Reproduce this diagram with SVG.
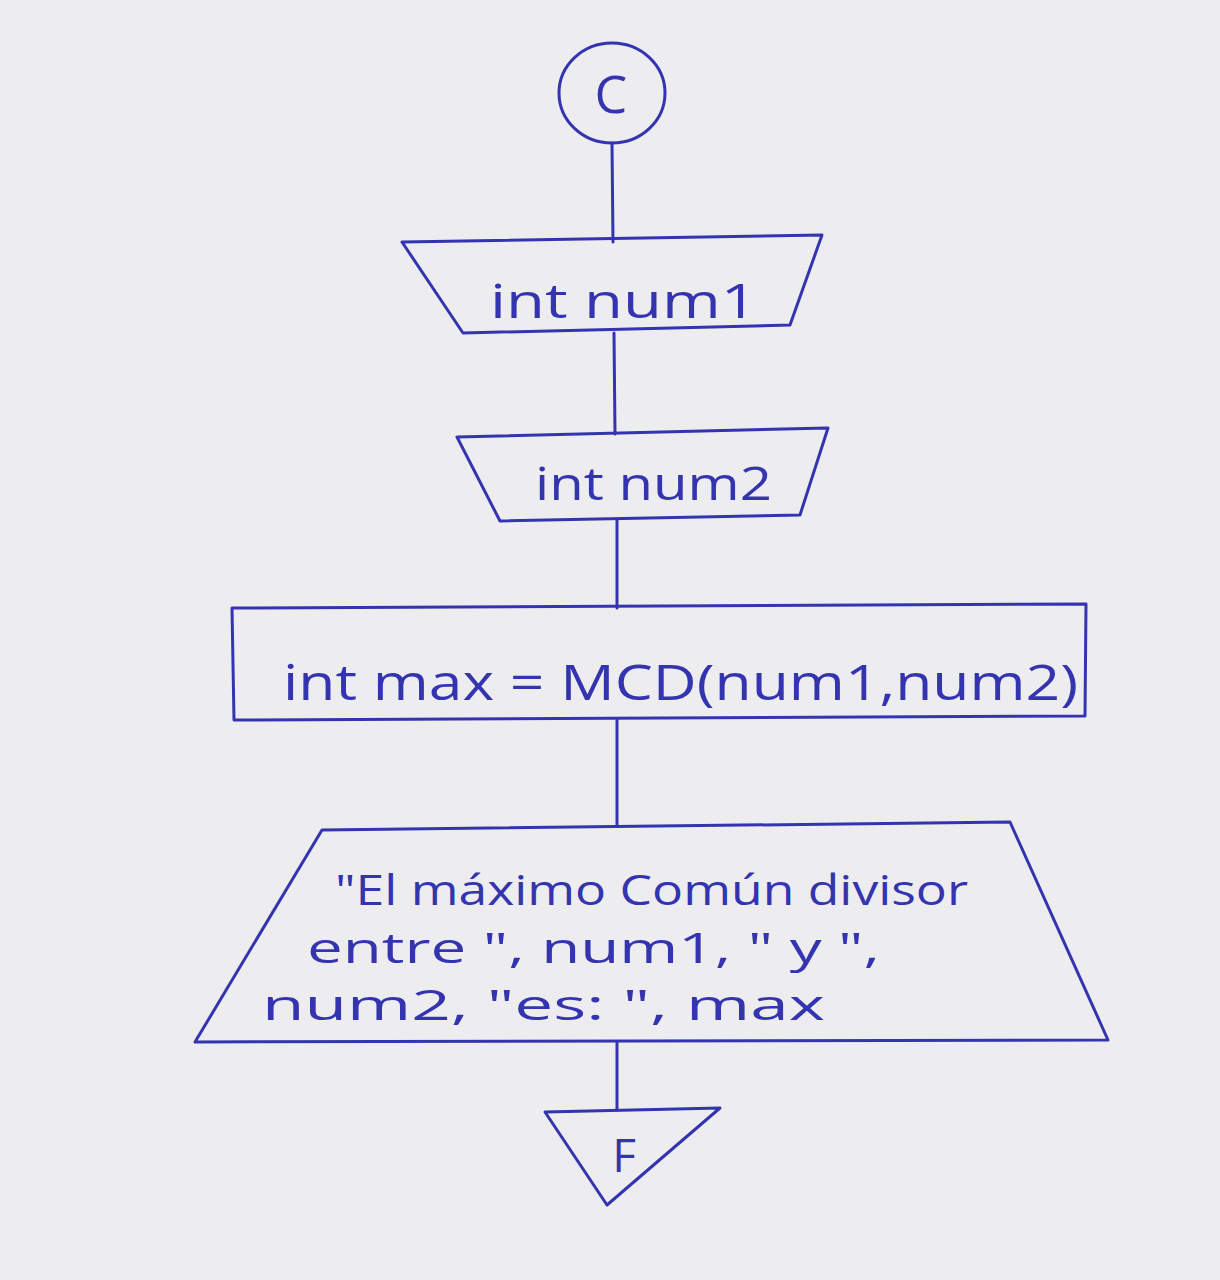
<svg xmlns="http://www.w3.org/2000/svg" width="1220" height="1280" viewBox="0 0 1220 1280">
<defs>
<style>
.bg{fill:#ededf0}
.s{fill:none;stroke:#3434b0;stroke-width:3;stroke-linejoin:round;stroke-linecap:round}
.t{font-family:"Open Sans","Liberation Sans",sans-serif;fill:#3434b0;font-weight:400}
</style>
</defs>
<rect class="bg" x="0" y="0" width="1220" height="1280"/>
<g id="connectors">
<path class="s" d="M612 143 L613 242"/>
<path class="s" d="M614 333 L615 434"/>
<path class="s" d="M617 520 L617 608"/>
<path class="s" d="M617 720 L617 826"/>
<path class="s" d="M617 1042 L617 1110"/>
</g>
<g id="start">
<ellipse class="s" cx="612" cy="93" rx="53" ry="50"/>
<text class="t" x="611" y="113" font-size="52" text-anchor="middle">C</text>
</g>
<g id="input1">
<path class="s" d="M402 242 L822 235 L790 325 L463 333 Z"/>
<text class="t" x="490" y="318" font-size="48" textLength="267" lengthAdjust="spacingAndGlyphs">int num1</text>
</g>
<g id="input2">
<path class="s" d="M457 437 L828 428 L800 515 L500 521 Z"/>
<text class="t" x="535" y="500" font-size="46" textLength="237" lengthAdjust="spacingAndGlyphs">int num2</text>
</g>
<g id="process">
<path class="s" d="M232 608 L1086 604 L1085 716 L234 720 Z"/>
<text class="t" x="283" y="700" font-size="50" textLength="795" lengthAdjust="spacingAndGlyphs">int max = MCD(num1,num2)</text>
</g>
<g id="output">
<path class="s" d="M322 830 L1010 822 L1108 1040 L195 1042 Z"/>
<text class="t" x="335" y="905" font-size="42" textLength="633" lengthAdjust="spacingAndGlyphs">"El máximo Común divisor</text>
<text class="t" x="307" y="963" font-size="42" textLength="573" lengthAdjust="spacingAndGlyphs">entre ", num1, " y ",</text>
<text class="t" x="262" y="1020" font-size="42" textLength="563" lengthAdjust="spacingAndGlyphs">num2, "es: ", max</text>
</g>
<g id="end">
<path class="s" d="M545 1112 L720 1108 L607 1205 Z"/>
<text class="t" x="624" y="1172" font-size="46" text-anchor="middle">F</text>
</g>
</svg>
